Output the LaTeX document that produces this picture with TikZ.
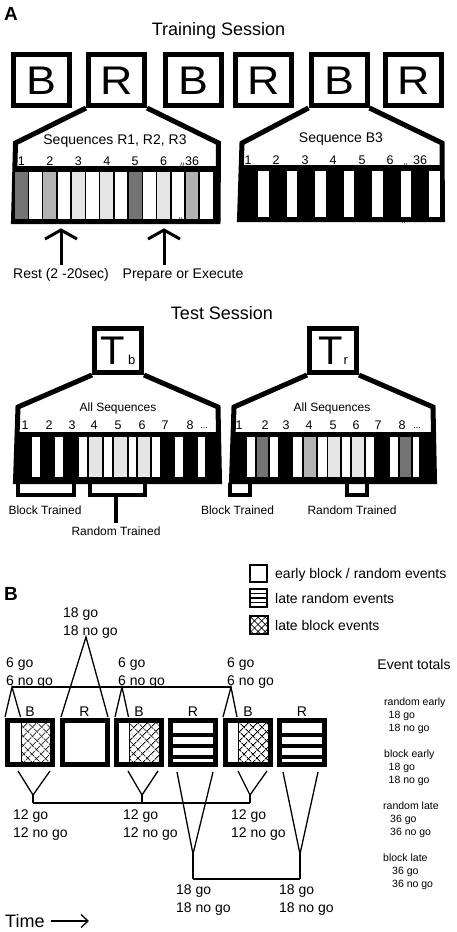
\documentclass[tikz,border=0pt]{standalone}
\usepackage{fontspec}
\setmainfont{Liberation Sans}
\usetikzlibrary{patterns.meta,arrows.meta}
\definecolor{dk}{gray}{0.45}
\definecolor{md}{gray}{0.70}
\definecolor{lt}{gray}{0.90}
\tikzset{
 txt/.style={inner sep=0pt, text depth=0pt},
 t18/.style={txt, font=\fontsize{18}{20}\selectfont, text height=12.9pt},
 t14/.style={txt, font=\fontsize{14}{16}\selectfont, text height=10pt},
 tnum/.style={txt, font=\fontsize{12.5}{14}\selectfont, text height=9pt},
 t12/.style={txt, font=\fontsize{12}{14}\selectfont, text height=8.6pt},
 tsm/.style={txt, font=\fontsize{10.5}{12}\selectfont, text height=7.5pt},
 brkmark/.style={txt, font=\fontsize{8}{8}\selectfont, text height=5.7pt},
 panel/.style={txt, font=\fontsize{19}{19}\selectfont\bfseries, text height=13.6pt},
 big/.style={draw, line width=5pt, inner sep=0pt, font=\fontsize{40}{40}\selectfont, text height=28.6pt, text depth=0pt},
 topbox/.style={big, minimum width=56pt, minimum height=51pt},
 testbox/.style={big, minimum width=47pt, minimum height=44pt},
 funnel/.style={line width=5pt, line join=miter},
 pbox/.style={draw, line width=5pt, minimum width=45pt, minimum height=44pt, inner sep=0pt},
 conn/.style={line width=1.3pt},
 brk/.style={line width=3.5pt},
 arr/.style={line width=3pt, line join=miter},
 xha/.style={pattern={Lines[angle=45,distance=6.5pt,line width=0.9pt]}},
 xhb/.style={pattern={Lines[angle=-45,distance=6.5pt,line width=0.9pt]}},
 xla/.style={pattern={Lines[angle=45,distance=5pt,line width=0.7pt]}},
 xlb/.style={pattern={Lines[angle=-45,distance=5pt,line width=0.7pt]}},
}
\begin{document}
\begin{tikzpicture}[x=1pt,y=-1pt]
\useasboundingbox (0,0) rectangle (456,932);
% ================= Part A =================
\node[panel] (lblA) at (11,14) {A};
\node[t18] (train) at (218.5,29) {Training Session};
\foreach \n/\x/\l in {b1/41/B,b2/116.5/R,b3/193.5/B,b4/263.5/R,b5/339/B,b6/413.5/R}
  \node[topbox] (\n) at (\x,80) {\scalebox{1.12}[1]{\l}};
% random funnel and bar
\draw[funnel] (b2.south west) -- (15.5,143) -- (13.5,221.5) -- (218,221.5) -- (218.5,143) -- (b2.south east);
\fill (14,166) rectangle (219,222);
\foreach \i/\c in {0/dk,1/white,2/md,3/white,4/lt,5/white,6/lt,7/white,8/dk,9/white,10/lt,11/white,12/md,13/white}
  \fill[\c] ({15+14.23*\i},172) rectangle ++(12.7,47);
\foreach \i/\t in {0/1,2/2,4/3,6/4,8/5,10/6,12/36}
  \node[tnum] (rn\i) at ({21.35+14.23*\i},161) {\t};
\node[brkmark] (rbk1) at (182,165.5) {//};
\node[brkmark] (rbk2) at (180,221) {//};
\node[t14] (rseq) at (115,139.5) {Sequences R1, R2, R3};
% block funnel and bar
\draw[funnel] (b5.south west) -- (242,143) -- (239.5,219.5) -- (442.5,219.5) -- (442,143) -- (b5.south east);
\fill (240,165) rectangle (443,221);
\foreach \x in {258,286.5,315,343.5,372,400.5,429}
  \fill[white] (\x,171) rectangle ++(10.5,46);
\foreach \x/\t in {248/1,276/2,305/3,333/4,362/5,390/6,420/36}
  \node[tnum] (bn\t) at (\x,160) {\t};
\node[brkmark] (bbk1) at (405,167) {//};
\node[brkmark] (bbk2) at (404,221) {//};
\node[t14] (bseq) at (341,137.5) {Sequence B3};
% arrows
\coordinate (ar1) at (61,230); \coordinate (ar1s) at (61,265);
\coordinate (ar2) at (164,230); \coordinate (ar2s) at (164,265);
\draw[arr] (ar1s) -- (ar1);
\draw[arr] (ar1) ++(-16,9) -- (ar1) -- ++(16,9);
\draw[arr] (ar2s) -- (ar2);
\draw[arr] (ar2) ++(-16,9) -- (ar2) -- ++(16,9);
\node[t14] (rest) at (61,273) {Rest (2 -20sec)};
\node[t14] (prep) at (183,273) {Prepare or Execute};
% ---------- Test session ----------
\node[t18] (test) at (222,313) {Test Session};
\node[testbox] (tb) at (118,350.5) {T\hspace{3pt}{\fontsize{13}{13}\selectfont b}};
\node[testbox] (tr) at (333,350.5) {T\hspace{1pt}{\fontsize{13}{13}\selectfont r}};
\draw[funnel] (tb.south west) -- (18,407) -- (15.5,481.5) -- (219.5,481.5) -- (218,407) -- (tb.south east);
\fill (16,432) rectangle (219,483);
\foreach \a/\b/\c in {32/40/white,55/63/white,79/87/white,89/102/lt,103.5/112/white,114/127/lt,128.5/136/white,137.5/150/lt,152/160/white,175/183/white,198/205/white}
  \fill[\c] (\a,437) rectangle (\b,477);
\foreach \x/\t in {25/1,49/2,72/3,94/4,118/5,142/6,165/7,190/8}
  \node[tnum] (tbn\t) at (\x,424.5) {\t};
\node[txt, font=\fontsize{9}{9}\selectfont, text height=5pt] (tbdots) at (204,425.5) {...};
\node[t12] (tball) at (118,407) {All Sequences};
\draw[funnel] (tr.south west) -- (234,407) -- (231.5,481.5) -- (434.5,481.5) -- (433,407) -- (tr.south east);
\fill (232,432) rectangle (434,483);
\foreach \a/\b/\c in {247/255/white,257/268/dk,270/278/white,293/302/white,304/316/md,318/327/white,328/340/lt,342/350/white,352/364/lt,366/374/white,390/398/white,399.5/411/dk,413/419/white}
  \fill[\c] (\a,437) rectangle (\b,477);
\foreach \x/\t in {239/1,265/2,286/3,309/4,333/5,356/6,378/7,402/8}
  \node[tnum] (trn\t) at (\x,424.5) {\t};
\node[txt, font=\fontsize{9}{9}\selectfont, text height=5pt] (trdots) at (417,425.5) {...};
\node[t12] (trall) at (332,407) {All Sequences};
% brackets
\draw[brk] (18,483) -- (18,495) -- (74,495) -- (74,483);
\draw[brk] (90,483) -- (90,495) -- (145,495) -- (145,483);
\coordinate (rtstem) at (116,495); \coordinate (rtend) at (116,523);
\draw[brk] (rtstem) -- (rtend);
\draw[brk] (230,483) -- (230,495) -- (250,495) -- (250,483);
\draw[brk] (347,483) -- (347,495) -- (367,495) -- (367,483);
\node[t12] (bt1) at (45,510) {Block Trained};
\node[t12] (rt1) at (116,531) {Random Trained};
\node[t12] (bt2) at (237.5,510) {Block Trained};
\node[t12] (rt2) at (352,510) {Random Trained};
% ================= Part B =================
\node[panel] (lblB) at (11,594) {B};
% legend
\node[draw, line width=2pt, minimum width=17pt, minimum height=17pt, inner sep=0pt] (lg1) at (258.5,573.5) {};
\node[t14, anchor=west] (lg1t) at (275,573) {early block / random events};
\node[draw, line width=2pt, minimum width=17pt, minimum height=18pt, inner sep=0pt] (lg2) at (258.5,598) {};
\foreach \y in {593.5,598,602.5} \draw[line width=1.2pt] (250,\y) -- (267,\y);
\node[t14, anchor=west] (lg2t) at (275,598) {late random events};
\fill[xla] (250,616) rectangle (268,634);
\fill[xlb] (250,616) rectangle (268,634);
\node[draw, line width=2pt, minimum width=18pt, minimum height=18pt, inner sep=0pt] (lg3) at (259,625) {};
\node[t14, anchor=west] (lg3t) at (275,625) {late block events};
% boxes
\foreach \a in {21,129,238} {
  \fill[xha] (\a,723) rectangle ({\a+30},762);
  \fill[xhb] (\a,723) rectangle ({\a+30},762);
  \draw[line width=0.8pt] (\a,723) -- (\a,762);
}
\foreach \a in {173,282} {
  \foreach \y in {732.8,743.5,754.5} \fill (\a,\y) rectangle ({\a+40},{\y+4.5});
}
\foreach \n/\x/\l in {p1/30/B,p2/84.5/R,p3/139/B,p4/193/R,p5/248/B,p6/302/R} {
  \node[pbox] (\n) at (\x,742.5) {};
  \node[t14] (\n l) at (\x,711) {\l};
}
% top connectors
\coordinate (f1) at (12,687); \coordinate (f2) at (122,687); \coordinate (f3) at (231,687);
\draw[conn] (f1) -- (f3);
\draw[conn] (5,717) -- (f1) -- (20.5,717);
\draw[conn] (115,717) -- (f2) -- (128.5,717);
\draw[conn] (223,717) -- (f3) -- (237,717);
\coordinate (f18) at (86,637);
\draw[conn] (61,717) -- (f18) -- (108,717);
\node[t14, anchor=west] (g18a) at (63,612.7) {18 go};
\node[t14, anchor=west] (g18b) at (63,630.5) {18 no go};
\foreach \x/\k in {6/a,118/b,227/c} {
  \node[t14, anchor=west] (g6\k) at (\x,662.5) {6 go};
  \node[t14, anchor=west] (n6\k) at (\x,680) {6 no go};
}
% bottom connectors
\coordinate (v1) at (33,795); \coordinate (v3) at (142,795); \coordinate (v5) at (250,795);
\coordinate (h1) at (33,803); \coordinate (h3) at (142,803); \coordinate (h5) at (250,803);
\draw[conn] (18,771) -- (v1) -- (50,771); \draw[conn] (v1) -- (h1);
\draw[conn] (128,771) -- (v3) -- (158,771); \draw[conn] (v3) -- (h3);
\draw[conn] (238,771) -- (v5) -- (267,771); \draw[conn] (v5) -- (h5);
\draw[conn] (h1) -- (h5);
\coordinate (w4) at (193,854); \coordinate (w6) at (300,854);
\coordinate (g4) at (193,879); \coordinate (g6) at (300,879);
\draw[conn] (177,772) -- (w4) -- (213,772); \draw[conn] (w4) -- (g4);
\draw[conn] (283,772) -- (w6) -- (318,772); \draw[conn] (w6) -- (g6);
\draw[conn] (g4) -- (g6);
\foreach \x/\k in {13/a,123/b,231/c} {
  \node[t14, anchor=west] (g12\k) at (\x,814.7) {12 go};
  \node[t14, anchor=west] (n12\k) at (\x,832) {12 no go};
}
\foreach \x/\k in {176/a,279/b} {
  \node[t14, anchor=west] (gb18\k) at (\x,889.5) {18 go};
  \node[t14, anchor=west] (nb18\k) at (\x,907) {18 no go};
}
% time arrow
\node[t18, anchor=west] (time) at (5,921) {Time};
\coordinate (tend) at (89,921);
\draw[conn, -{Straight Barb[length=7pt,width=13pt,line width=1.3pt]}] ([xshift=6pt]time.east) -- (tend);
% event totals
\node[t14] (evt) at (414,664) {Event totals};
\foreach \y/\x/\t/\k in {702/384/random early/a1, 715/388.5/18 go/a2, 727.5/388.5/18 no go/a3,
  754/384/block early/b1, 767/388.5/18 go/b2, 780/388.5/18 no go/b3,
  806/383/random late/c1, 819/390/36 go/c2, 832/390/36 no go/c3,
  858/383/block late/d1, 871/392/36 go/d2, 884/392/36 no go/d3}
  \node[tsm, anchor=west] (ev\k) at (\x,\y) {\t};
\end{tikzpicture}
\end{document}
